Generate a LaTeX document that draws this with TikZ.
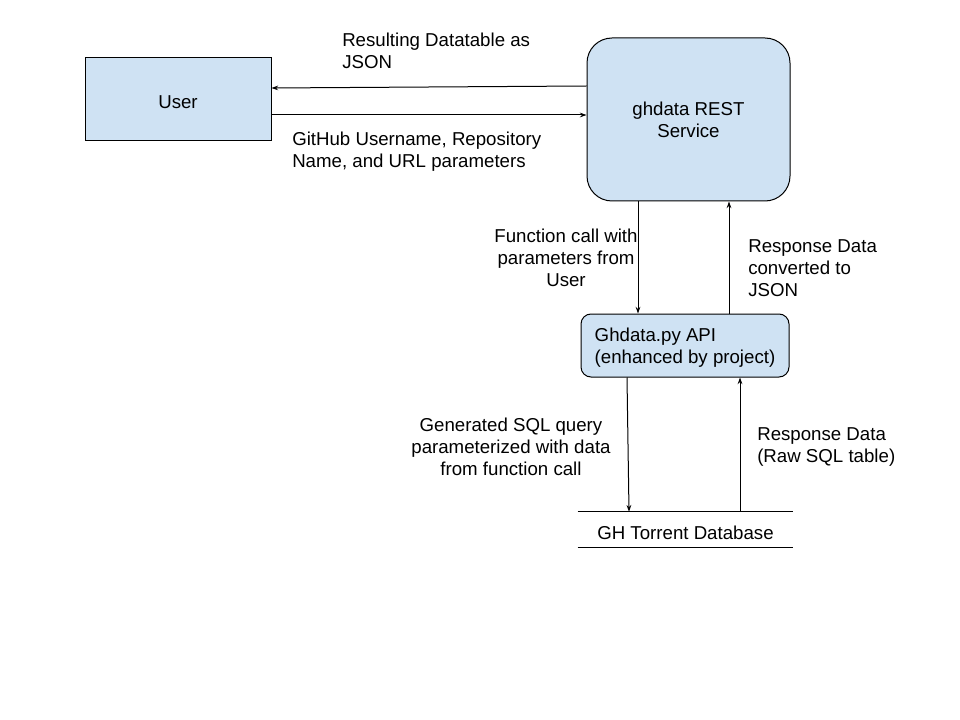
\documentclass[tikz,border=0pt]{standalone}
\usepackage{fontspec}
\setmainfont{Liberation Sans}
\usetikzlibrary{arrows.meta,calc}
\definecolor{boxblue}{HTML}{CFE2F3}
\begin{document}
\begin{tikzpicture}[x=0.75pt,y=-0.75pt,
  every node/.style={font=\fontsize{14}{16.5}\selectfont},
  bluebox/.style={draw=black,line width=0.75pt,fill=boxblue,inner sep=0pt},
  lbl/.style={inner sep=0pt},
  arr/.style={draw=black,line width=0.75pt,-{Stealth[length=5pt,width=3.5pt]}}]
\useasboundingbox[fill=white] (0,0) rectangle (960,720);
\node[bluebox,minimum width=139.5pt,minimum height=62.25pt] (user) at (178,99.5) {};
\node[lbl] (usertext) at ($(user.center)+(0,2.5)$) {User};
\node[bluebox,rounded corners=18.75pt,minimum width=152.25pt,minimum height=122.25pt] (rest) at (688.5,119.5) {};
\node[lbl,align=center] (resttext) at ($(rest.center)+(0,0.5)$) {ghdata REST\\Service};
\node[bluebox,rounded corners=7.5pt,minimum width=156pt,minimum height=47.25pt] (api) at (685,345.5) {};
\node[lbl,align=left] (apitext) at ($(api.center)+(0,2)$) {Ghdata.py API\\(enhanced by project)};
\node[inner sep=0pt,minimum width=161.25pt,minimum height=26.25pt] (db) at (685.5,529.5) {};
\node[lbl] (dbtext) at ($(db.center)+(0,3.5)$) {GH Torrent Database};
\draw[line width=0.75pt] (db.north west) -- (db.north east);
\draw[line width=0.75pt] (db.south west) -- (db.south east);

\draw[arr] (rest.west |- 0,86) -- (user.east |- 0,88);
\draw[arr] (user.east |- 0,115) -- (rest.west |- 0,115);
\draw[arr] (rest.south -| 638,0) -- (api.north -| 638,0);
\draw[arr] (api.north -| 729,0) -- (rest.south -| 729,0);
\draw[arr] (api.south -| 627,0) -- (db.north -| 629,0);
\draw[arr] (db.north -| 740,0) -- (api.south -| 740,0);

\node[lbl,align=left,anchor=west] (t1) at (342,50.5) {Resulting Datatable as\\JSON};
\node[lbl,align=left,anchor=west] (t2) at (292,152) {GitHub Username, Repository\\Name, and URL parameters};
\node[lbl,align=center] (t3) at (566,258) {Function call with\\parameters from\\User};
\node[lbl,align=left,anchor=west] (t4) at (748,268) {Response Data\\converted to\\JSON};
\node[lbl,align=center] (t5) at (511,446.5) {Generated SQL query\\parameterized with data\\from function call};
\node[lbl,align=left,anchor=west] (t6) at (757,447) {Response Data\\(Raw SQL table)};
\end{tikzpicture}
\end{document}
